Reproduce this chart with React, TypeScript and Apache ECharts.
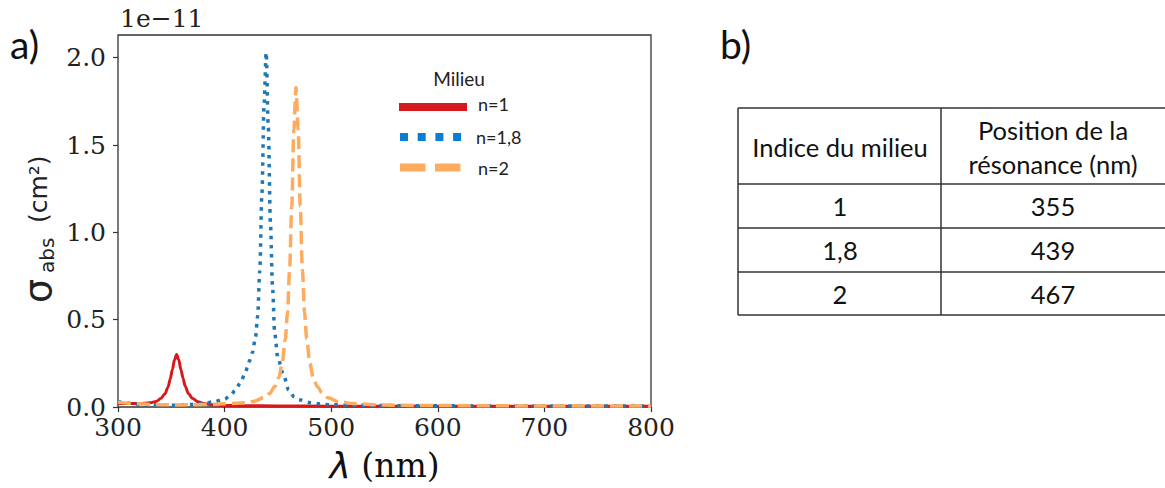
import React, { useEffect, useRef } from "react";
import * as echarts from "echarts";

// Wavelength (nm) / absorption cross-section (units of 1e-11 cm²)
const wlN1 = [300, 310, 320, 330, 336, 340, 344, 347, 349, 351, 353, 355, 357, 359, 361, 363, 366, 370, 375, 380, 390, 400, 420, 450, 500, 600, 700, 800];
const sigN1 = [0.022, 0.02, 0.02, 0.024, 0.032, 0.048, 0.075, 0.115, 0.16, 0.215, 0.27, 0.3, 0.27, 0.215, 0.165, 0.12, 0.078, 0.048, 0.03, 0.02, 0.012, 0.009, 0.007, 0.006, 0.005, 0.004, 0.004, 0.004];

const wlN18 = [300, 310, 320, 330, 340, 350, 360, 370, 380, 390, 400, 406, 410, 415, 419, 423, 426, 429, 431, 433, 435, 437, 439, 441, 443, 445, 447, 450, 455, 460, 465, 470, 480, 490, 500, 520, 550, 600, 700, 800];
const sigN18 = [0.03, 0.022, 0.016, 0.012, 0.01, 0.01, 0.012, 0.015, 0.02, 0.03, 0.045, 0.07, 0.095, 0.14, 0.19, 0.26, 0.31, 0.4, 0.52, 0.78, 1.22, 1.72, 2.03, 1.6, 1.05, 0.68, 0.42, 0.28, 0.19, 0.1, 0.06, 0.042, 0.025, 0.017, 0.013, 0.01, 0.008, 0.007, 0.006, 0.006];

const wlN2 = [300, 310, 320, 330, 340, 350, 360, 370, 380, 390, 400, 410, 420, 427, 437, 442, 447, 451, 454, 457, 459, 461, 463, 465, 467, 469, 471, 473, 475, 477, 480, 483, 487, 492, 497, 507, 520, 540, 560, 600, 700, 800];
const sigN2 = [0.028, 0.022, 0.018, 0.015, 0.013, 0.012, 0.012, 0.013, 0.014, 0.016, 0.018, 0.021, 0.025, 0.032, 0.053, 0.076, 0.116, 0.17, 0.25, 0.39, 0.54, 0.785, 1.15, 1.59, 1.83, 1.59, 1.15, 0.785, 0.54, 0.39, 0.25, 0.17, 0.116, 0.076, 0.053, 0.03, 0.02, 0.013, 0.01, 0.008, 0.006, 0.005];

const seriesNames = ["n=1", "n=1,8", "n=2"];
const xTicks = [300, 400, 500, 600, 700, 800];
const yTicks = [0, 0.5, 1.0, 1.5, 2.0];

const tableHeader = ["Indice du milieu", ["Position de la", "résonance (nm)"]];
const tableIndex = ["1", "1,8", "2"];
const tablePosition = ["355", "439", "467"];

const zip = (xs: number[], ys: number[]) => xs.map((x, i) => [x, ys[i]]);

const RED = "#d7191c";
const BLUE = "#1f77b4";
const BLUE_LEG = "#0a7fd2";
const ORANGE = "#fdab5f";
const SANS = "Lato, 'Open Sans', sans-serif";
const SERIF = "'DejaVu Serif', serif";

export default function App() {
  const ref = useRef<HTMLDivElement>(null);
  useEffect(() => {
    if (!ref.current) return;
    const chart = echarts.init(ref.current, undefined, { renderer: "svg" });

    const tblLeft = 738;
    const tblRight = 1166;
    const colX = 941;
    const rowsY = [108, 184, 228, 272, 315];
    const tableLine = { stroke: "#333", lineWidth: 1.5 };
    const tableGraphics: any[] = [];
    rowsY.forEach((y) =>
      tableGraphics.push({ type: "line", shape: { x1: tblLeft, y1: y, x2: tblRight, y2: y }, style: tableLine })
    );
    tableGraphics.push({ type: "line", shape: { x1: tblLeft, y1: rowsY[0], x2: tblLeft, y2: rowsY[4] }, style: tableLine });
    tableGraphics.push({ type: "line", shape: { x1: colX, y1: rowsY[0], x2: colX, y2: rowsY[4] }, style: tableLine });
    const c1 = 840;
    const c2 = 1053;
    const cellText = (x: number, y: number, t: string) => ({
      type: "text",
      x,
      y,
      style: { text: t, fill: "#111", font: `25.5px ${SANS}`, textAlign: "center", textVerticalAlign: "middle" },
    });
    tableGraphics.push(cellText(c1, 147, tableHeader[0] as string));
    tableGraphics.push(cellText(c2, 130, (tableHeader[1] as string[])[0]));
    tableGraphics.push(cellText(c2, 164, (tableHeader[1] as string[])[1]));
    tableIndex.forEach((t, i) => {
      const cy = (rowsY[i + 1] + rowsY[i + 2]) / 2;
      tableGraphics.push(cellText(c1, cy, t));
      tableGraphics.push(cellText(c2, cy, tablePosition[i]));
    });

    const legendGraphics: any[] = [
      { type: "text", x: 459, y: 78, style: { text: "Milieu", fill: "#222", font: `19px ${SANS}`, textAlign: "center", textVerticalAlign: "middle" } },
      { type: "line", shape: { x1: 399, y1: 107, x2: 467, y2: 107 }, style: { stroke: RED, lineWidth: 8 } },
      { type: "text", x: 478, y: 104, style: { text: seriesNames[0], fill: "#222", font: `18px ${SANS}`, textVerticalAlign: "middle" } },
      { type: "line", shape: { x1: 400, y1: 137, x2: 462, y2: 137 }, style: { stroke: BLUE_LEG, lineWidth: 8, lineDash: [8, 9.7] } },
      { type: "text", x: 476, y: 137, style: { text: seriesNames[1], fill: "#222", font: `18px ${SANS}`, textVerticalAlign: "middle" } },
      { type: "line", shape: { x1: 400, y1: 167.5, x2: 462, y2: 167.5 }, style: { stroke: ORANGE, lineWidth: 8, lineDash: [25.5, 9.5] } },
      { type: "text", x: 478, y: 168, style: { text: seriesNames[2], fill: "#222", font: `18px ${SANS}`, textVerticalAlign: "middle" } },
    ];

    const yLabel = {
      type: "group",
      x: 38,
      y: 303,
      rotation: Math.PI / 2,
      children: [
        { type: "text", x: 0, y: 0, style: { text: "σ", fill: "#222", font: `38px 'DejaVu Sans', sans-serif`, textVerticalAlign: "middle" } },
        { type: "text", x: 30, y: 9, style: { text: "abs", fill: "#222", font: `20px 'DejaVu Sans', sans-serif`, textVerticalAlign: "middle" } },
        { type: "text", x: 80, y: 0, style: { text: "(cm²)", fill: "#222", font: `25px 'DejaVu Sans', sans-serif`, textVerticalAlign: "middle" } },
      ],
    };

    const option: any = {
      animation: false,
      backgroundColor: "#fff",
      grid: { left: 118, right: 514, top: 35, bottom: 81, show: true, borderColor: "#333", borderWidth: 1.3, backgroundColor: "transparent" },
      xAxis: {
        type: "value",
        min: 300,
        max: 800,
        interval: 100,
        name: "{l|λ}{n| (nm)}",
        nameLocation: "middle",
        nameGap: 40,
        nameTextStyle: {
          rich: {
            l: { fontFamily: "'DejaVu Sans', sans-serif", fontStyle: "italic", fontSize: 36, color: "#111" },
            n: { fontFamily: SERIF, fontSize: 33, color: "#111" },
          },
        },
        axisLine: { show: false },
        splitLine: { show: false },
        axisTick: { show: true, length: 5, lineStyle: { color: "#333", width: 1.2 }, customValues: xTicks },
        axisLabel: { color: "#222", fontFamily: SERIF, fontSize: 25, margin: 8, customValues: xTicks },
      },
      yAxis: {
        type: "value",
        min: 0,
        max: 2.13,
        interval: 0.5,
        axisLine: { show: false },
        splitLine: { show: false },
        axisTick: { show: true, length: 5, lineStyle: { color: "#333", width: 1.2 }, customValues: yTicks },
        axisLabel: {
          color: "#222",
          fontFamily: SERIF,
          fontSize: 25,
          margin: 12,
          customValues: yTicks,
          formatter: (v: number) => (Math.abs(v * 2 - Math.round(v * 2)) < 1e-6 ? v.toFixed(1) : ""),
        },
      },
      series: [
        {
          name: seriesNames[0],
          type: "line",
          data: zip(wlN1, sigN1),
          showSymbol: false,
          smooth: 0.3,
          smoothMonotone: "x",
          lineStyle: { color: RED, width: 3 },
          itemStyle: { color: RED },
        },
        {
          name: seriesNames[1],
          type: "line",
          data: zip(wlN18, sigN18),
          showSymbol: false,
          smooth: 0.3,
          smoothMonotone: "x",
          lineStyle: { color: BLUE, width: 3.5, type: [3.5, 5.5] },
          itemStyle: { color: BLUE },
        },
        {
          name: seriesNames[2],
          type: "line",
          data: zip(wlN2, sigN2),
          showSymbol: false,
          smooth: 0.3,
          smoothMonotone: "x",
          lineStyle: { color: ORANGE, width: 3.5, type: [13, 6] },
          itemStyle: { color: ORANGE },
        },
      ],
      graphic: [
        { type: "text", x: 10, y: 44, style: { text: "a)", fill: "#111", font: `39px ${SANS}`, textVerticalAlign: "middle" } },
        { type: "text", x: 720, y: 44, style: { text: "b)", fill: "#111", font: `39px ${SANS}`, textVerticalAlign: "middle" } },
        { type: "text", x: 120, y: 18, style: { text: "1e−11", fill: "#222", font: `25px ${SERIF}`, textVerticalAlign: "middle" } },
        yLabel,
        ...legendGraphics,
        ...tableGraphics,
      ],
    };
    chart.setOption(option);
    return () => chart.dispose();
  }, []);

  return <div ref={ref} style={{ position: "fixed", left: 0, top: 0, width: 1165, height: 488 }} />;
}
